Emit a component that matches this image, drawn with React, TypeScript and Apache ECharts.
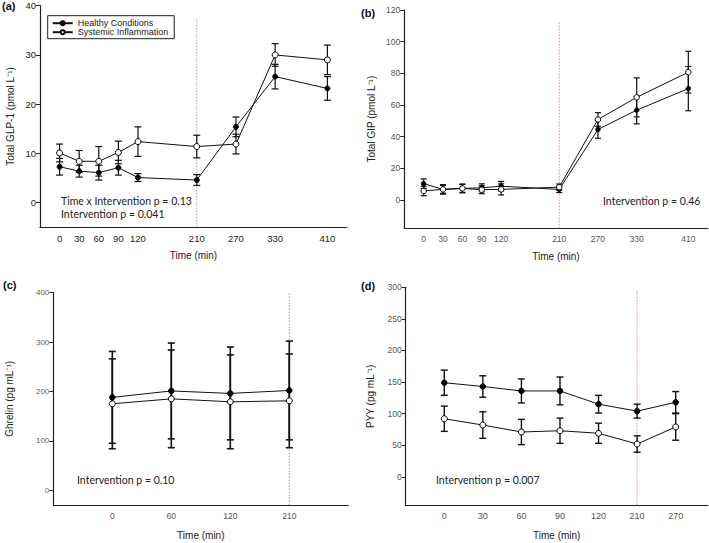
import React, { useEffect, useRef } from "react";
import * as echarts from "echarts";

// ---------- data ----------
const TIMES_AB = [0, 30, 60, 90, 120, 210, 270, 330, 410];
const TIME_TICKS_AB = [0, 30, 60, 90, 120, 210, 270, 330, 410];

const GLP1_HEALTHY = [7.3, 6.4, 6.1, 7.1, 5.1, 4.6, 15.4, 25.6, 23.2];
const GLP1_HEALTHY_SE = [1.7, 1.2, 1.5, 1.5, 0.8, 1.1, 2.0, 2.5, 2.4];
const GLP1_INFL = [10.1, 8.4, 8.4, 10.2, 12.4, 11.4, 11.9, 30.0, 29.0];
const GLP1_INFL_SE = [1.8, 2.2, 3.0, 2.3, 3.0, 2.3, 2.0, 2.3, 3.0];
const GLP1_TICKS = [0, 10, 20, 30, 40];

const GIP_HEALTHY = [10.2, 6.6, 7.2, 7.6, 8.6, 6.6, 44.5, 56.7, 70.3];
const GIP_HEALTHY_SE = [3, 3, 2.8, 2.5, 3, 2, 5.6, 8.7, 14];
const GIP_INFL = [5.6, 6.6, 7.2, 6.4, 6.6, 8.0, 50.8, 64.8, 80.7];
const GIP_INFL_SE = [3, 2.5, 2.5, 2.5, 3.5, 2, 4.3, 12.3, 13.2];
const GIP_TICKS = [0, 20, 40, 60, 80, 100, 120];

const GHRELIN_CATS = ["0", "60", "120", "210"];
const GHRELIN_HEALTHY = [188, 201, 196, 202];
const GHRELIN_HEALTHY_SE = [93, 97, 94, 100];
const GHRELIN_INFL = [175, 185, 179, 181];
const GHRELIN_INFL_SE = [91, 99, 95, 95];
const GHRELIN_TICKS = [0, 100, 200, 300, 400];

const PYY_CATS = ["0", "30", "60", "90", "120", "210", "270"];
const PYY_HEALTHY = [149, 143, 136, 136, 115, 104, 118];
const PYY_HEALTHY_SE = [20, 17, 19, 22, 14, 11, 17];
const PYY_INFL = [92, 82, 71, 73, 69, 52, 79];
const PYY_INFL_SE = [20, 21, 20, 20, 16, 13, 21];
const PYY_TICKS = [0, 50, 100, 150, 200, 250, 300];

const INTERVENTION = "210";
// vertical extent (y values) of the red intervention marker per panel
const MARK_A = [-5, 37.5];
const MARK_B = [-18, 113];
const MARK_C = [-30, 400];
const MARK_D = [-45, 297];

const NAMES = ["Healthy Conditions", "Systemic Inflammation"];

// ---------- helpers ----------
const FONT = "'Liberation Sans', Arial, sans-serif";
const NOTE_FONT = "Lato, 'Open Sans', sans-serif";

function errData(xs: number[], v: number[], e: number[]) {
  return xs.map((x, i) => [x, v[i] - e[i], v[i] + e[i]]);
}

function errSeries(idx: number, data: number[][], cap: number, lw: number) {
  return {
    type: "custom",
    xAxisIndex: idx,
    yAxisIndex: idx,
    z: 1,
    silent: true,
    encode: { x: 0, y: [1, 2] },
    data,
    renderItem: (params: any, api: any) => {
      const x = api.value(0);
      const lo = api.coord([x, api.value(1)]);
      const hi = api.coord([x, api.value(2)]);
      const hw = cap / 2;
      const style = { stroke: "#111", lineWidth: lw };
      return {
        type: "group",
        children: [
          { type: "line", shape: { x1: lo[0], y1: lo[1], x2: hi[0], y2: hi[1] }, style },
          { type: "line", shape: { x1: lo[0] - hw, y1: lo[1], x2: lo[0] + hw, y2: lo[1] }, style },
          { type: "line", shape: { x1: hi[0] - hw, y1: hi[1], x2: hi[0] + hw, y2: hi[1] }, style },
        ],
      };
    },
  };
}

function lineSeries(idx: number, name: string, xs: number[], v: number[], filled: boolean, size: number) {
  return {
    type: "line",
    name,
    xAxisIndex: idx,
    yAxisIndex: idx,
    z: 3,
    data: xs.map((x, i) => [x, v[i]]),
    symbol: "circle",
    symbolSize: size,
    showSymbol: true,
    lineStyle: { color: "#111", width: 1 },
    itemStyle: filled
      ? { color: "#000", borderColor: "#000", borderWidth: 1 }
      : { color: "#fff", borderColor: "#000", borderWidth: 1 },
  };
}

function markSeries(idx: number, x: number, ext: number[]) {
  return {
    type: "line",
    xAxisIndex: idx,
    yAxisIndex: idx,
    z: 0,
    silent: true,
    symbol: "none",
    data: [
      [x, ext[0]],
      [x, ext[1]],
    ],
    lineStyle: { color: "#eaa3a3", width: 1.3, type: [1.5, 1.5] },
  };
}

function xAxis(idx: number, min: number, max: number, ticks: number[], fmt: (v: number) => string, fs: number, color: string, gap: number) {
  return {
    type: "value",
    gridIndex: idx,
    min,
    max,
    name: "Time (min)",
    nameLocation: "middle",
    nameGap: gap,
    nameTextStyle: { fontFamily: FONT, fontSize: 10, color: "#222" },
    axisLine: { onZero: false, lineStyle: { color: "#222", width: 1.2 } },
    axisTick: { show: false },
    splitLine: { show: false },
    axisLabel: {
      customValues: ticks,
      formatter: fmt,
      fontFamily: FONT,
      fontSize: fs,
      color,
      margin: 6,
    },
  };
}

function yAxis(idx: number, min: number, max: number, ticks: number[], name: string, fs: number, color: string, gap: number) {
  return {
    type: "value",
    gridIndex: idx,
    min,
    max,
    name,
    nameLocation: "middle",
    nameGap: gap,
    nameRotate: 90,
    nameTextStyle: { fontFamily: FONT, fontSize: 10, color: "#222" },
    axisLine: { onZero: false, lineStyle: { color: "#222", width: 1.2 } },
    axisTick: { show: true, customValues: ticks, length: 4, lineStyle: { color: "#222" } },
    splitLine: { show: false },
    axisLabel: { customValues: ticks, fontFamily: FONT, fontSize: fs, color, margin: 4 },
  };
}

export default function App() {
  const ref = useRef<HTMLDivElement>(null);
  useEffect(() => {
    document.body.style.margin = "0";
    const chart = echarts.init(ref.current!, undefined, { renderer: "svg" });
    const idxC = GHRELIN_CATS.map((_, i) => i);
    const idxD = PYY_CATS.map((_, i) => i);
    const fmtC = (v: number) => GHRELIN_CATS[Math.round(v)] ?? "";
    const fmtD = (v: number) => PYY_CATS[Math.round(v)] ?? "";
    const fmtT = (v: number) => String(v);

    const option: any = {
      animation: false,
      backgroundColor: "#fff",
      grid: [
        { left: 40, top: 5.7, width: 307, height: 221.6 },
        { left: 404.3, top: 10, width: 303.4, height: 218.3 },
        { left: 53.3, top: 292.7, width: 295, height: 212.3 },
        { left: 405.7, top: 287.3, width: 302, height: 218 },
      ],
      xAxis: [
        xAxis(0, -30, 440, TIME_TICKS_AB, fmtT, 9.5, "#222", 23),
        xAxis(1, -30, 440, TIME_TICKS_AB, fmtT, 8.5, "#555", 23),
        xAxis(2, -1, 4, idxC, fmtC, 8.5, "#555", 25),
        xAxis(3, -1, 6.83, idxD, fmtD, 9, "#555", 25),
      ],
      yAxis: [
        yAxis(0, -5, 40, GLP1_TICKS, "Total GLP-1 (pmol L\u207B\u00B9)", 9.5, "#222", 25),
        yAxis(1, -18, 120, GIP_TICKS, "Total GIP (pmol L\u207B\u00B9)", 8.5, "#555", 28),
        yAxis(2, -30, 400, GHRELIN_TICKS, "Ghrelin (pg mL\u207B\u00B9)", 8, "#666", 39),
        yAxis(3, -45, 300, PYY_TICKS, "PYY (pg mL\u207B\u00B9)", 8.5, "#555", 30),
      ],
      legend: {
        data: NAMES,
        orient: "vertical",
        left: 47.7,
        top: 15.7,
        itemWidth: 20,
        itemHeight: 5,
        itemGap: 0,
        padding: [3, 6, 2, 4],
        borderColor: "#222",
        borderWidth: 1,
        selectedMode: false,
        textStyle: { fontFamily: FONT, fontSize: 9, color: "#222", padding: [0, 0, 0, 0] },
      },
      series: [
        markSeries(0, Number(INTERVENTION), MARK_A),
        errSeries(0, errData(TIMES_AB, GLP1_HEALTHY, GLP1_HEALTHY_SE), 7, 1.2),
        errSeries(0, errData(TIMES_AB, GLP1_INFL, GLP1_INFL_SE), 7, 1.2),
        lineSeries(0, NAMES[0], TIMES_AB, GLP1_HEALTHY, true, 5),
        lineSeries(0, NAMES[1], TIMES_AB, GLP1_INFL, false, 6),

        markSeries(1, Number(INTERVENTION), MARK_B),
        errSeries(1, errData(TIMES_AB, GIP_HEALTHY, GIP_HEALTHY_SE), 6, 1.2),
        errSeries(1, errData(TIMES_AB, GIP_INFL, GIP_INFL_SE), 6, 1.2),
        lineSeries(1, NAMES[0], TIMES_AB, GIP_HEALTHY, true, 4.5),
        lineSeries(1, NAMES[1], TIMES_AB, GIP_INFL, false, 5.5),

        markSeries(2, GHRELIN_CATS.indexOf(INTERVENTION), MARK_C),
        errSeries(2, errData(idxC, GHRELIN_HEALTHY, GHRELIN_HEALTHY_SE), 7, 1.6),
        errSeries(2, errData(idxC, GHRELIN_INFL, GHRELIN_INFL_SE), 7, 1.6),
        lineSeries(2, NAMES[0], idxC, GHRELIN_HEALTHY, true, 5.5),
        lineSeries(2, NAMES[1], idxC, GHRELIN_INFL, false, 6),

        markSeries(3, PYY_CATS.indexOf(INTERVENTION), MARK_D),
        errSeries(3, errData(idxD, PYY_HEALTHY, PYY_HEALTHY_SE), 7, 1.4),
        errSeries(3, errData(idxD, PYY_INFL, PYY_INFL_SE), 7, 1.4),
        lineSeries(3, NAMES[0], idxD, PYY_HEALTHY, true, 5.5),
        lineSeries(3, NAMES[1], idxD, PYY_INFL, false, 6),
      ],
      graphic: [
        { type: "text", left: 2, top: 0, style: { text: "(a)", font: `bold 11px ${FONT}`, fill: "#111" } },
        { type: "text", left: 361, top: 7, style: { text: "(b)", font: `bold 11px ${FONT}`, fill: "#111" } },
        { type: "text", left: 3, top: 279, style: { text: "(c)", font: `bold 11px ${FONT}`, fill: "#111" } },
        { type: "text", left: 361, top: 280, style: { text: "(d)", font: `bold 11px ${FONT}`, fill: "#111" } },
        { type: "text", left: 61, top: 195, style: { text: "Time x Intervention p = 0.13", font: `10.5px ${NOTE_FONT}`, fill: "#222" } },
        { type: "text", left: 61, top: 208, style: { text: "Intervention p = 0.041", font: `10.5px ${NOTE_FONT}`, fill: "#222" } },
        { type: "text", left: 603, top: 195, style: { text: "Intervention p = 0.46", font: `10.5px ${NOTE_FONT}`, fill: "#222" } },
        { type: "text", left: 77, top: 474, style: { text: "Intervention p = 0.10", font: `10.5px ${NOTE_FONT}`, fill: "#222" } },
        { type: "text", left: 436, top: 474, style: { text: "Intervention p = 0.007", font: `10.5px ${NOTE_FONT}`, fill: "#222" } },
      ],
    };
    chart.setOption(option);
    return () => chart.dispose();
  }, []);
  return <div ref={ref} style={{ width: 709, height: 543 }} />;
}
